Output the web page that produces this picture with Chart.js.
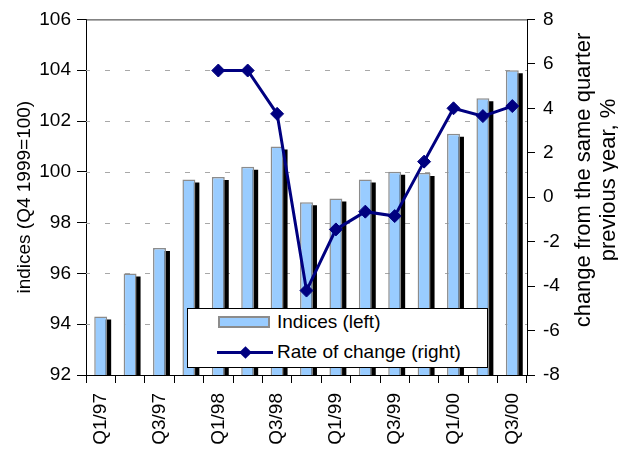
<!DOCTYPE html>
<html>
<head>
<meta charset="utf-8">
<title>Indices and rate of change</title>
<script src="https://cdn.jsdelivr.net/npm/chart.js@4.4.0/dist/chart.umd.min.js"></script>
<style>
  body { margin: 0; background: #fff; }
  #wrap { position: relative; width: 618px; height: 451px; }
  #legend {
    position: absolute; left: 187px; top: 308px; width: 301px; height: 60px;
    box-sizing: border-box; border: 1px solid #000; background: #fff;
    font-family: 'Liberation Sans', Arial, sans-serif; font-size: 19px; color: #000;
  }
  .row { position: absolute; left: 0; right: 0; height: 24px; }
  .row span.txt { position: absolute; left: 89px; top: 0; line-height: 24px; white-space: nowrap; }
  .box { position: absolute; left: 30px; top: 6px; width: 52px; height: 12px; box-sizing: border-box;
         background: #99ccff; border: 2px solid #8c8c8c; }
  .ln { position: absolute; left: 29px; top: 11px; width: 56px; height: 3px; background: #000080; }
  .dia { position: absolute; left: 53px; top: 8px; width: 9px; height: 9px; background: #000080; transform: rotate(45deg); }
</style>
</head>
<body>
<div id="wrap">
  <canvas id="chart" width="618" height="451"></canvas>
  <div id="legend"></div>
</div>
<script>
const quarters = ['Q1/97', 'Q2/97', 'Q3/97', 'Q4/97', 'Q1/98', 'Q2/98', 'Q3/98', 'Q4/98',
                  'Q1/99', 'Q2/99', 'Q3/99', 'Q4/99', 'Q1/00', 'Q2/00', 'Q3/00'];
// indices, Q4 1999 = 100 (left axis)
const indices = [94.3, 96.0, 97.0, 99.7, 99.8, 100.2, 101.0, 98.8,
                 98.95, 99.7, 100.0, 99.95, 101.5, 102.9, 104.0];
// change from the same quarter previous year, % (right axis)
const rateOfChange = [null, null, null, null, 5.7, 5.7, 3.75, -4.2,
                      -1.45, -0.65, -0.85, 1.6, 4.0, 3.65, 4.1];
const leftTitle = 'indices (Q4 1999=100)';
const rightTitle = ['change from the same quarter', 'previous year, %'];

const FONT = "'Liberation Sans', Arial, sans-serif";

// black drop shadow behind the bars: shadow dataset drawn shifted right/down, clipped to the plot
const barShadow = {
    id: 'barShadow',
    beforeDatasetDraw(chart, args) {
        if (args.index !== 1) return;
        const a = chart.chartArea;
        const ctx = chart.ctx;
        ctx.save();
        ctx.beginPath();
        ctx.rect(a.left, a.top, a.right - a.left, a.bottom - a.top);
        ctx.clip();
        ctx.translate(4, 3);
    },
    afterDatasetDraw(chart, args) {
        if (args.index === 1) chart.ctx.restore();
    }
};

// dashed horizontal gridlines, top frame line and the right axis title (reads bottom to top)
const frame = {
    id: 'frame',
    beforeDatasetsDraw(chart) {
        const { ctx, chartArea: a } = chart;
        const y = chart.scales.y;
        ctx.save();
        ctx.strokeStyle = '#a8a8a8';
        ctx.lineWidth = 1;
        ctx.setLineDash([5, 15]);
        ctx.lineDashOffset = -19;
        y.ticks.forEach(t => {
            if (t.value <= y.min || t.value >= y.max) return;
            const py = Math.round(y.getPixelForValue(t.value)) + 0.5;
            ctx.beginPath();
            ctx.moveTo(a.left, py);
            ctx.lineTo(a.right, py);
            ctx.stroke();
        });
        ctx.setLineDash([]);
        ctx.strokeStyle = '#333';
        ctx.beginPath();
        ctx.moveTo(a.left, a.top + 0.5);
        ctx.lineTo(a.right, a.top + 0.5);
        ctx.stroke();
        ctx.restore();
    },
    afterDraw(chart) {
        const ctx = chart.ctx;
        ctx.save();
        ctx.translate(584, 180);
        ctx.rotate(-Math.PI / 2);
        ctx.font = '22px ' + FONT;
        ctx.fillStyle = '#000';
        ctx.textAlign = 'center';
        ctx.textBaseline = 'middle';
        rightTitle.forEach((t, i) => ctx.fillText(t, 0, i * 25));
        ctx.restore();
    }
};

const chart = new Chart(document.getElementById('chart'), {
    data: {
        labels: quarters,
        datasets: [{
            type: 'bar',
            label: 'Indices (left)',
            data: indices,
            yAxisID: 'y',
            backgroundColor: '#99ccff',
            borderColor: '#8c8c8c',
            borderWidth: 1.5,
            grouped: false,
            order: 1
        }, {
            type: 'bar',
            label: 'shadow',
            data: indices,
            yAxisID: 'y',
            backgroundColor: '#000',
            borderWidth: 0,
            grouped: false,
            clip: false,
            order: 2
        }, {
            type: 'line',
            label: 'Rate of change (right)',
            data: rateOfChange,
            yAxisID: 'y1',
            borderColor: '#000080',
            borderWidth: 3,
            pointStyle: 'rectRot',
            pointRadius: 6.5,
            pointBackgroundColor: '#000080',
            pointBorderColor: '#000080',
            pointBorderWidth: 1,
            tension: 0,
            order: 0
        }]
    },
    options: {
        responsive: false,
        animation: false,
        devicePixelRatio: 1,
        categoryPercentage: 1,
        barPercentage: 0.44,
        layout: { padding: { top: 18, left: 0, right: 0, bottom: 0 } },
        plugins: {
            legend: { display: false },
            tooltip: { enabled: false }
        },
        scales: {
            x: {
                offset: true,
                grid: { offset: true, drawOnChartArea: false, tickLength: 8, tickColor: '#000' },
                border: { color: '#000', width: 1 },
                ticks: {
                    autoSkip: false, minRotation: 90, maxRotation: 90, padding: 10,
                    color: '#000', font: { family: FONT, size: 19 },
                    callback: (v, i) => (i % 2 === 0 ? quarters[i] : '')
                },
                afterFit: s => { s.height = 76; }
            },
            y: {
                position: 'left',
                min: 92, max: 106,
                ticks: { stepSize: 2, padding: 6, color: '#000', font: { family: FONT, size: 19 } },
                grid: { drawOnChartArea: false, tickColor: '#000', tickLength: 9 },
                border: { color: '#000', width: 1 },
                title: {
                    display: true, text: leftTitle, color: '#000',
                    font: { family: FONT, size: 19 }, padding: { top: 13, bottom: 0 }
                },
                afterFit: s => { s.width = 86; }
            },
            y1: {
                position: 'right',
                min: -8, max: 8,
                ticks: { stepSize: 2, padding: 8, color: '#000', font: { family: FONT, size: 19 } },
                grid: { drawOnChartArea: false, tickColor: '#000', tickLength: 8 },
                border: { color: '#000', width: 1 },
                afterFit: s => { s.width = 91; }
            }
        }
    },
    plugins: [barShadow, frame]
});

// legend box inside the plot, built from the dataset labels
const legend = document.getElementById('legend');
legend.innerHTML = chart.data.datasets
    .filter(ds => ds.label !== 'shadow')
    .map((ds, i) => `
        <div class="row" style="top:${1 + i * 30}px">
            ${ds.type === 'bar' ? '<div class="box"></div>' : '<div class="ln"></div><div class="dia"></div>'}
            <span class="txt">${ds.label}</span>
        </div>
    `).join('');
</script>
</body>
</html>
